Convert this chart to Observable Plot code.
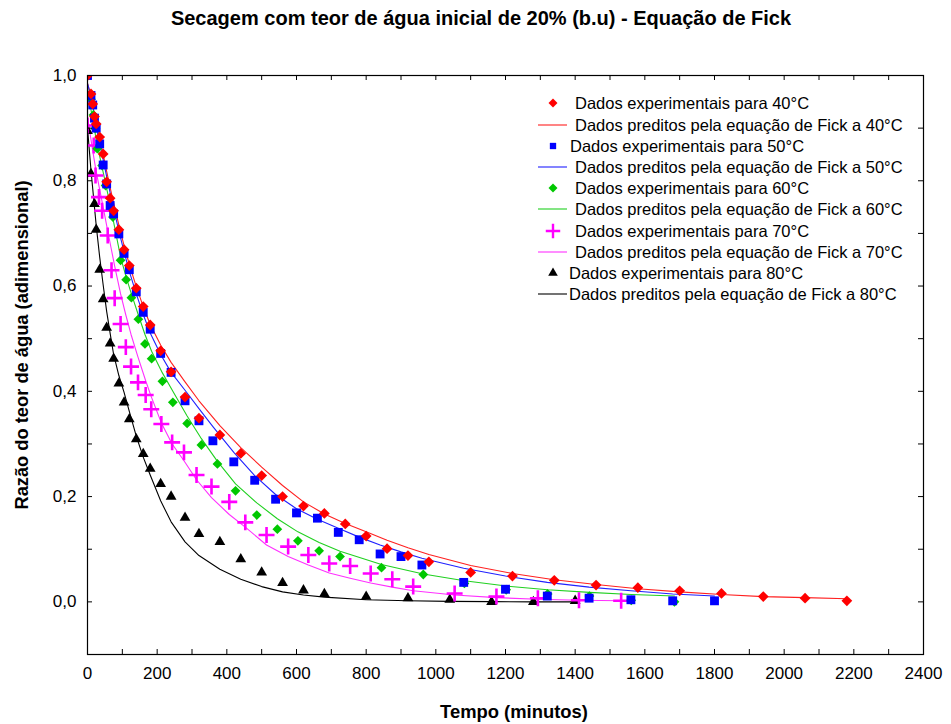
<!DOCTYPE html>
<html><head><meta charset="utf-8">
<script src="https://cdn.jsdelivr.net/npm/d3@7"></script>
<script src="https://cdn.jsdelivr.net/npm/@observablehq/plot@0.6"></script>
<style>body{margin:0;background:#fff} #chart{position:relative;width:951px;height:724px}</style>
</head><body><div id="chart"></div>
<script>
// ---- Data ----
const t40 = [0,10,15,20,25,35,45,55,65,75,90,105,120,140,160,180,210,240,280,320,380,440,500,560,620,680,740,800,860,920,980,1100,1220,1340,1460,1580,1700,1820,1940,2060,2180];
const exp40 = [1.0,0.965,0.946,0.922,0.908,0.883,0.851,0.798,0.767,0.743,0.707,0.669,0.639,0.596,0.561,0.526,0.477,0.437,0.389,0.349,0.317,0.282,0.240,0.200,0.182,0.168,0.148,0.125,0.101,0.088,0.076,0.056,0.049,0.041,0.032,0.027,0.021,0.016,0.010,0.007,0.002];
const fick40 = [0.985,0.962,0.946,0.925,0.908,0.880,0.850,0.818,0.787,0.758,0.716,0.677,0.641,0.599,0.561,0.527,0.488,0.455,0.418,0.382,0.335,0.293,0.256,0.221,0.190,0.167,0.149,0.133,0.117,0.103,0.090,0.069,0.054,0.042,0.033,0.025,0.019,0.014,0.010,0.008,0.006];

const t50 = [0,10,15,20,25,35,45,55,65,75,90,105,120,140,160,180,210,240,280,320,360,420,480,540,600,660,720,780,840,900,960,1080,1200,1320,1440,1560,1680,1800];
const exp50 = [1.0,0.962,0.944,0.919,0.900,0.870,0.830,0.794,0.753,0.737,0.699,0.662,0.631,0.589,0.550,0.518,0.472,0.436,0.382,0.344,0.306,0.266,0.231,0.195,0.169,0.159,0.132,0.118,0.091,0.086,0.070,0.037,0.024,0.011,0.007,0.004,0.002,0.002];
const fick50 = [0.985,0.960,0.943,0.921,0.902,0.872,0.840,0.808,0.777,0.747,0.705,0.665,0.628,0.585,0.546,0.511,0.470,0.436,0.402,0.367,0.333,0.284,0.240,0.204,0.177,0.157,0.140,0.123,0.108,0.095,0.083,0.064,0.049,0.037,0.028,0.021,0.015,0.011];

const t60 = [0,10,17,23,28,42,52,73,95,111,126,146,165,184,215,245,286,327,373,425,486,545,604,665,725,844,964,1082,1202,1321,1441,1561,1685];
const exp60 = [1.0,0.955,0.925,0.899,0.861,0.829,0.791,0.731,0.649,0.612,0.578,0.537,0.490,0.462,0.419,0.379,0.339,0.298,0.262,0.211,0.165,0.138,0.116,0.097,0.086,0.065,0.052,0.035,0.023,0.015,0.011,0.003,0.0];
const fick60 = [0.975,0.935,0.908,0.886,0.868,0.825,0.795,0.728,0.655,0.617,0.585,0.545,0.508,0.476,0.435,0.400,0.353,0.310,0.267,0.224,0.188,0.158,0.133,0.113,0.096,0.071,0.053,0.040,0.030,0.023,0.018,0.014,0.011];

const t70 = [0,18,23,33,42,58,69,78,95,110,125,145,167,183,212,243,277,313,356,407,453,514,576,634,694,754,813,875,935,1054,1174,1293,1411,1532];
const exp70 = [0.905,0.867,0.810,0.769,0.743,0.696,0.630,0.577,0.528,0.484,0.447,0.417,0.393,0.366,0.338,0.303,0.284,0.241,0.219,0.190,0.151,0.127,0.105,0.089,0.073,0.068,0.054,0.043,0.029,0.016,0.010,0.007,0.003,0.002];
const fick70 = [0.92,0.845,0.825,0.79,0.76,0.705,0.668,0.638,0.585,0.545,0.508,0.465,0.420,0.390,0.340,0.300,0.268,0.232,0.198,0.166,0.142,0.108,0.086,0.070,0.055,0.045,0.036,0.028,0.021,0.013,0.008,0.005,0.003,0.002];

const t80 = [0,10,20,25,35,45,55,65,75,90,105,120,140,160,180,210,240,280,320,380,440,500,560,620,680,800,920,1040,1160,1280,1400];
const exp80 = [0.895,0.813,0.756,0.707,0.631,0.575,0.521,0.491,0.462,0.415,0.379,0.347,0.309,0.281,0.253,0.224,0.200,0.160,0.129,0.114,0.081,0.056,0.036,0.022,0.015,0.010,0.007,0.004,0.0,0.0,0.002];
const fick80 = [0.90,0.82,0.75,0.715,0.655,0.602,0.552,0.51,0.47,0.43,0.398,0.362,0.315,0.275,0.241,0.192,0.152,0.114,0.088,0.062,0.043,0.029,0.019,0.013,0.009,0.004,0.002,0.001,0.0005,0.0,0.0];

const xTickLabels = [0,200,400,600,800,1000,1200,1400,1600,1800,2000,2200,2400];
const xMinorTicks = d3.range(0, 2401, 100);
const yTickLabels = [0,0.2,0.4,0.6,0.8,1.0];
const yMinorTicks = [-0.1,0,0.1,0.2,0.3,0.4,0.5,0.6,0.7,0.8,0.9,1.0];

// a square diamond (rotated square) symbol
const diamondSq = {draw(ctx, size) { const s = Math.sqrt(size / 2); ctx.moveTo(0, -s); ctx.lineTo(s, 0); ctx.lineTo(0, s); ctx.lineTo(-s, 0); ctx.closePath(); }};

const series = [
  {key:"40", t:t40, exp:exp40, fick:fick40, color:"#ff0000", line:"#ff2020", symbol:diamondSq, r:4.3, plus:false},
  {key:"50", t:t50, exp:exp50, fick:fick50, color:"#0000ff", line:"#2020ff", symbol:"square", r:5.0, plus:false},
  {key:"60", t:t60, exp:exp60, fick:fick60, color:"#00c800", line:"#20d020", symbol:diamondSq, r:3.9, plus:false},
  {key:"70", t:t70, exp:exp70, fick:fick70, color:"#ff00ff", line:"#ff30ff", symbol:"plus", r:5.2, plus:true},
  {key:"80", t:t80, exp:exp80, fick:fick80, color:"#000000", line:"#000000", symbol:"triangle", r:4.0, plus:false}
];
const rows = (s, which) => s.t.map((t, i) => ({t, v: s[which][i]}));

// ---- Layout ----
const W = 951, H = 724, mL = 87, mR = 28, mT = 75, mB = 70;
const fw = W - mL - mR, fh = H - mT - mB, tk = 5;

const marks = [];
for (const s of series) {
  marks.push(Plot.line(rows(s, "fick"), {x:"t", y:"v", stroke:s.line, strokeWidth:1.1, clip:true}));
}
for (const s of [...series].reverse()) {
  marks.push(Plot.dot(rows(s, "exp"), {
    x:"t", y:"v", symbol:s.symbol, r:s.r, clip:true,
    fill: s.plus ? "none" : s.color, stroke: s.plus ? s.color : "none", strokeWidth: s.plus ? 2.6 : 0
  }));
}
// inward ticks on all sides
marks.push(Plot.tickX(xMinorTicks, {x:d=>d, insetTop:fh-tk, stroke:"#000"}));
marks.push(Plot.tickX(xMinorTicks, {x:d=>d, insetBottom:fh-tk, stroke:"#000"}));
marks.push(Plot.tickY(yMinorTicks, {y:d=>d, insetRight:fw-tk, stroke:"#000"}));
marks.push(Plot.tickY(yMinorTicks, {y:d=>d, insetLeft:fw-tk, stroke:"#000"}));
marks.push(Plot.axisX(xTickLabels, {tickSize:0, tickPadding:12, label:null, tickFormat:d=>String(d), fontSize:17}));
marks.push(Plot.axisY(yTickLabels, {tickSize:0, tickPadding:11, label:null, tickFormat:d=>d.toFixed(1).replace(".", ","), fontSize:17}));
marks.push(Plot.frame({stroke:"#000", strokeWidth:1.2}));

const chart = Plot.plot({
  width: W, height: H,
  marginLeft: mL, marginRight: mR, marginTop: mT, marginBottom: mB,
  style: {fontFamily: "'Liberation Sans', Arial, sans-serif", fontSize: "16px", color: "#000", background: "#fff"},
  x: {domain: [0, 2400]},
  y: {domain: [-0.1, 1.0]},
  marks
});
document.getElementById("chart").appendChild(chart);

// ---- Title, axis titles and legend ----
const svg = d3.select(chart);
const ff = "'Liberation Sans', Arial, sans-serif";
svg.append("text").attr("x", 481).attr("y", 25).attr("text-anchor", "middle")
  .attr("font-family", ff).attr("font-weight", "bold").attr("font-size", 20)
  .text("Secagem com teor de água inicial de 20% (b.u) - Equação de Fick");
svg.append("text").attr("x", 514).attr("y", 718).attr("text-anchor", "middle")
  .attr("font-family", ff).attr("font-weight", "bold").attr("font-size", 18.4)
  .text("Tempo (minutos)");
svg.append("text").attr("transform", "translate(28,345) rotate(-90)").attr("text-anchor", "middle")
  .attr("font-family", ff).attr("font-weight", "bold").attr("font-size", 18.3)
  .text("Razão do teor de água (adimensional)");

const lg = svg.append("g").attr("font-family", ff).attr("font-size", 16.5).attr("text-anchor", "start");
const legendRows = [
  {s:0, kind:"exp", y:103, tx:575}, {s:0, kind:"fick", y:125, tx:575},
  {s:1, kind:"exp", y:146, tx:570}, {s:1, kind:"fick", y:167, tx:575},
  {s:2, kind:"exp", y:188, tx:575}, {s:2, kind:"fick", y:209, tx:575},
  {s:3, kind:"exp", y:231, tx:575}, {s:3, kind:"fick", y:252, tx:575},
  {s:4, kind:"exp", y:273, tx:569}, {s:4, kind:"fick", y:294, tx:569}
];
const legSym = [diamondSq, d3.symbolSquare, diamondSq, d3.symbolPlus, d3.symbolTriangle];
const legSize = [40, 40, 40, 70, 40];
for (const r of legendRows) {
  const s = series[r.s];
  if (r.kind === "exp") {
    const p = lg.append("path").attr("d", d3.symbol().type(legSym[r.s]).size(legSize[r.s])()).attr("transform", `translate(553,${r.y})`);
    if (s.plus) p.attr("fill", "none").attr("stroke", s.color).attr("stroke-width", 2.4);
    else p.attr("fill", s.color);
    lg.append("text").attr("x", r.tx).attr("y", r.y).attr("dy", "0.36em").text(`Dados experimentais para ${s.key}°C`);
  } else {
    lg.append("line").attr("x1", 538).attr("x2", 567).attr("y1", r.y).attr("y2", r.y)
      .attr("stroke", s.line).attr("stroke-width", 1.1);
    lg.append("text").attr("x", r.tx).attr("y", r.y).attr("dy", "0.36em").text(`Dados preditos pela equação de Fick a ${s.key}°C`);
  }
}
</script></body></html>
